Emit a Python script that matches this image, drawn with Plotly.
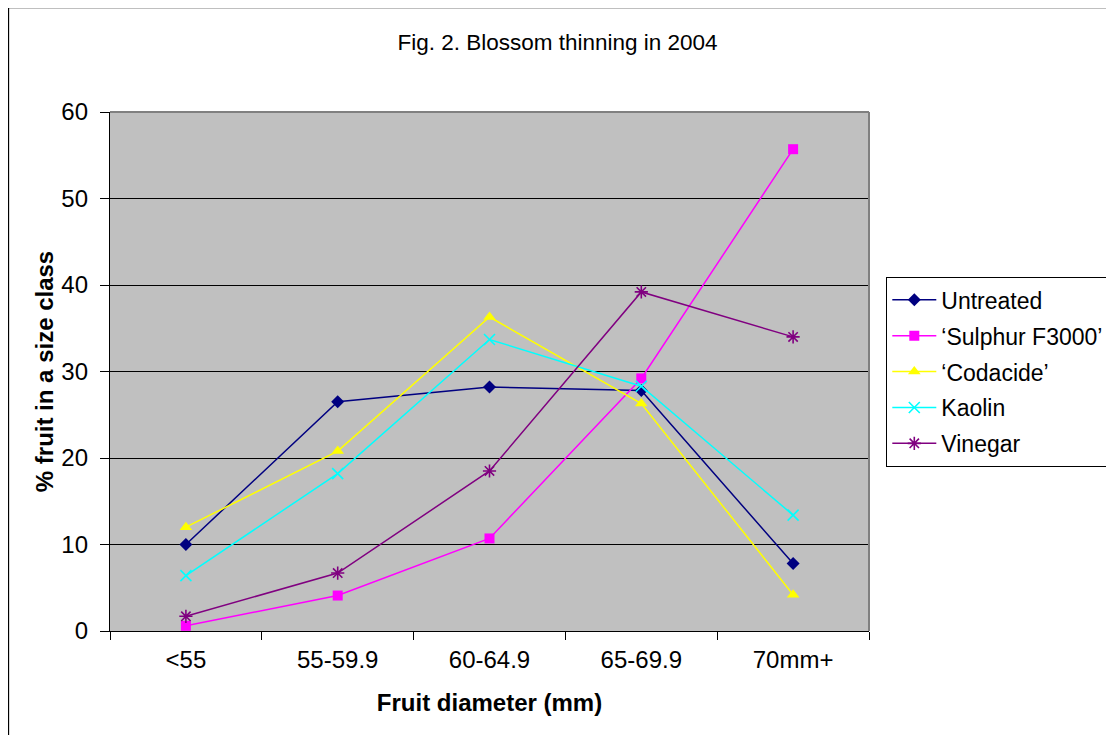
import plotly.graph_objects as go

categories = ["<55", "55-59.9", "60-64.9", "65-69.9", "70mm+"]
untreated = [10.0, 26.5, 28.2, 27.8, 7.8]
sulphur = [0.6, 4.1, 10.7, 29.2, 55.7]
codacide = [12.0, 20.8, 36.3, 26.3, 4.2]
kaolin = [6.4, 18.2, 33.7, 28.3, 13.4]
vinegar = [1.7, 6.7, 18.5, 39.2, 34.0]
y_ticks = [0, 10, 20, 30, 40, 50, 60]

FONT = "Liberation Sans, Arial, sans-serif"

series = [
    ("Untreated", untreated, "#000080", "diamond", 10, 0),
    ("\u2018Sulphur F3000\u2019", sulphur, "#FF00FF", "square", 10, 0),
    ("\u2018Codacide\u2019", codacide, "#FFFF00", "triangle-up", 11, 0),
    ("Kaolin", kaolin, "#00FFFF", "x-thin-open", 11, 1.6),
    ("Vinegar", vinegar, "#800080", "asterisk-open", 11, 1.6),
]

fig = go.Figure()
for i, (name, vals, col, sym, sz, lw) in enumerate(series):
    marker = dict(symbol=sym, size=sz, color=col)
    if lw:
        marker["line"] = dict(color=col, width=lw)
    else:
        marker["line"] = dict(width=0)
    fig.add_trace(go.Scatter(
        x=categories, y=vals, name=name, mode="lines+markers",
        line=dict(color=col, width=1.5), marker=marker,
        legendgroup=f"g{i}",
    ))

OFF = 8  # page body margin
L, T, R, B = 110 - OFF, 112 - OFF, 869 - OFF, 631 - OFF
W, H = 1114, 735
pw, ph = R - L, B - T

def px(x):
    return (x - OFF - L) / pw

def py(y):
    return (B - (y - OFF)) / ph

fig.update_layout(
    width=W, height=H, autosize=False,
    margin=dict(l=L, r=W - R, t=T, b=H - B, pad=0, autoexpand=False),
    paper_bgcolor="white", plot_bgcolor="#C0C0C0",
    font=dict(family=FONT, size=23, color="black"),
    title=dict(text="Fig. 2. Blossom thinning in 2004", x=(557.5 - OFF) / W, xref="container",
               xanchor="center", y=1 - (42 - OFF) / H, yref="container", yanchor="middle",
               font=dict(family=FONT, size=22.5, color="black")),
    showlegend=True,
    legend=dict(x=(886 - OFF) / W, y=1 - (277 - OFF) / H, xref="container", yref="container",
                xanchor="left", yanchor="top",
                bgcolor="white", bordercolor="black", borderwidth=1.3,
                font=dict(family=FONT, size=23, color="black"),
                tracegroupgap=3, itemwidth=44),
    xaxis=dict(
        type="category", range=[-0.5, 4.5], showgrid=False, zeroline=False,
        showline=True, linecolor="black", linewidth=1.3,
        ticks="outside", tickson="boundaries", ticklen=8, tickcolor="black", tickwidth=1,
        ticklabelstandoff=7,
        tickfont=dict(family=FONT, size=24, color="black"),
        title=dict(text="<b>Fruit diameter (mm)</b>", standoff=22,
                   font=dict(family=FONT, size=24, color="black")),
    ),
    yaxis=dict(
        range=[0, 60], tickvals=y_ticks, showgrid=True, gridcolor="black", gridwidth=1,
        zeroline=False, showline=True, linecolor="black", linewidth=1.3,
        ticks="outside", ticklen=9, tickcolor="black", tickwidth=1,
        ticklabelstandoff=7,
        tickfont=dict(family=FONT, size=24, color="black"),
        title=dict(text="<b>% fruit in a size class</b>", standoff=0,
                   font=dict(family=FONT, size=24, color="black")),
    ),
    shapes=[
        dict(type="line", xref="paper", yref="paper", x0=0, x1=1, y0=1, y1=1,
             line=dict(color="#808080", width=2), layer="above"),
        dict(type="line", xref="paper", yref="paper", x0=1, x1=1, y0=0, y1=1,
             line=dict(color="#808080", width=2), layer="above"),
        # outer chart border along the figure's top and left edges
        dict(type="rect", xref="paper", yref="paper",
             x0=px(8.5), x1=px(1140), y0=py(7.5), y1=py(760),
             line=dict(color="black", width=1.3), fillcolor="rgba(0,0,0,0)", layer="below"),
    ],
)

fig.write_html("out.html")
